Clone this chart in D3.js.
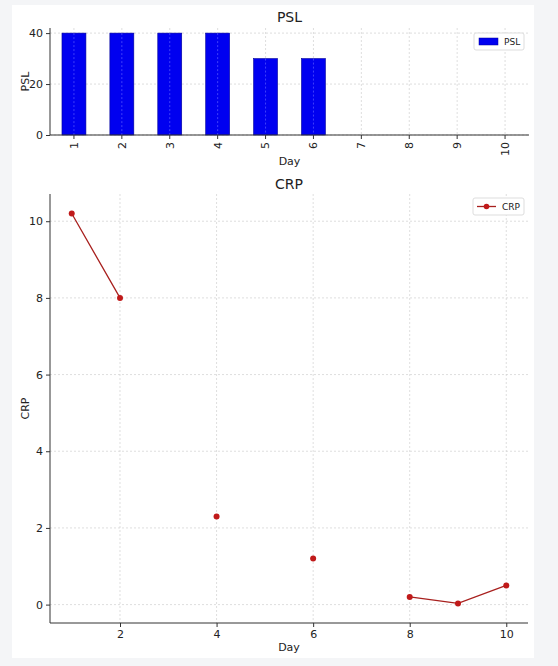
<!DOCTYPE html>
<html><head><meta charset="utf-8">
<script src="https://cdn.jsdelivr.net/npm/d3@7"></script>
<style>
body{margin:0;background:#f4f5f7;}
svg{display:block;font-family:"DejaVu Sans",sans-serif;}
</style></head>
<body>
<svg id="c" width="558" height="666"></svg>
<script>
const days = [1,2,3,4,5,6,7,8,9,10];
const pslValues = [40,40,40,40,30,30,null,null,null,null];
const crpValues = [10.2,8.0,null,2.3,null,1.2,null,0.2,0.03,0.5];
const pslTicks = [0,20,40];
const crpYTicks = [0,2,4,6,8,10];
const crpXTicks = [2,4,6,8,10];

const svg = d3.select("#c");
svg.append("rect").attr("x",12).attr("y",5).attr("width",522).attr("height",653).attr("fill","#fff");

const axisColor = "#333";
const gridColor = "#d0d0d0";
function styleAxis(g){
  g.select(".domain").remove();
  g.selectAll(".tick line").attr("stroke",axisColor);
  g.selectAll(".tick text").attr("fill","#222").attr("font-size","11px").attr("font-family","DejaVu Sans");
}

// ---------- PSL ----------
const t = {l:50,r:529,t:28,b:135};
const xb = d3.scaleBand().domain(days).range([t.l,t.r]).paddingInner(0.5).paddingOuter(0.25);
const yb = d3.scaleLinear().domain([0,42]).range([t.b,t.t]);
const g1 = svg.append("g");
// grid
g1.selectAll(".gx").data(days).join("line")
  .attr("x1",d=>xb(d)+xb.bandwidth()/2).attr("x2",d=>xb(d)+xb.bandwidth()/2)
  .attr("y1",t.t).attr("y2",t.b).attr("stroke",gridColor).attr("stroke-width",0.7).attr("stroke-dasharray","2,2");
g1.selectAll(".gy").data(pslTicks).join("line")
  .attr("x1",t.l).attr("x2",t.r).attr("y1",d=>yb(d)).attr("y2",d=>yb(d))
  .attr("stroke",gridColor).attr("stroke-width",0.7).attr("stroke-dasharray","2,2");
// bars
g1.selectAll(".bar").data(days.map((d,i)=>({d,v:pslValues[i]})).filter(o=>o.v!=null)).join("rect")
  .attr("x",o=>xb(o.d)).attr("width",xb.bandwidth())
  .attr("y",o=>yb(o.v)).attr("height",o=>yb(0)-yb(o.v))
  .attr("fill","#0000f0").attr("stroke","#00009a").attr("stroke-width",0.6);
// bar-center grid over bars (faint)
g1.selectAll(".gx2").data(days.filter((d,i)=>pslValues[i]!=null)).join("line")
  .attr("x1",d=>xb(d)+xb.bandwidth()/2).attr("x2",d=>xb(d)+xb.bandwidth()/2)
  .attr("y1",d=>yb(pslValues[d-1])).attr("y2",t.b).attr("stroke","#5a5aff").attr("stroke-width",0.7).attr("stroke-dasharray","2,2");
// axes
const ax1 = g1.append("g").attr("transform",`translate(0,${t.b})`).call(d3.axisBottom(xb).tickSize(4).tickPadding(3));
styleAxis(ax1);
ax1.selectAll(".tick text").attr("transform","rotate(-90)").attr("text-anchor","end").attr("dy","0.35em").attr("x",-7).attr("y",0);
const ay1 = g1.append("g").attr("transform",`translate(${t.l},0)`).call(d3.axisLeft(yb).tickValues(pslTicks).tickSize(4).tickPadding(3));
styleAxis(ay1);
g1.append("line").attr("x1",t.l).attr("x2",t.l).attr("y1",t.t).attr("y2",t.b).attr("stroke",axisColor).attr("stroke-width",1);
g1.append("line").attr("x1",t.l).attr("x2",t.r).attr("y1",t.b).attr("y2",t.b).attr("stroke",axisColor).attr("stroke-width",1);
g1.append("text").attr("x",(t.l+t.r)/2).attr("y",22).attr("text-anchor","middle").attr("font-size","14px").attr("fill","#222").text("PSL");
g1.append("text").attr("x",(t.l+t.r)/2).attr("y",165).attr("text-anchor","middle").attr("font-size","11px").attr("fill","#222").text("Day");
g1.append("text").attr("transform",`translate(29,${(t.t+t.b)/2}) rotate(-90)`).attr("text-anchor","middle").attr("font-size","11px").attr("fill","#222").text("PSL");
// legend
const l1 = g1.append("g").attr("transform","translate(474,33)");
l1.append("rect").attr("width",50).attr("height",17).attr("fill","#fff").attr("stroke","#ddd").attr("rx",2);
l1.append("rect").attr("x",5).attr("y",5).attr("width",19).attr("height",7).attr("fill","#0000f0").attr("stroke","#00009a").attr("stroke-width",0.5);
l1.append("text").attr("x",30).attr("y",12).attr("font-size","9px").attr("fill","#222").text("PSL");

// ---------- CRP ----------
const b = {l:50,r:528,t:194,b:623};
const x = d3.scaleLinear().domain([0.55,10.45]).range([b.l,b.r]);
const y = d3.scaleLinear().domain([-0.48,10.71]).range([b.b,b.t]);
const g2 = svg.append("g");
g2.selectAll(".gx").data(crpXTicks).join("line")
  .attr("x1",d=>x(d)).attr("x2",d=>x(d)).attr("y1",b.t).attr("y2",b.b)
  .attr("stroke",gridColor).attr("stroke-width",0.7).attr("stroke-dasharray","2,2");
g2.selectAll(".gy").data(crpYTicks).join("line")
  .attr("x1",b.l).attr("x2",b.r).attr("y1",d=>y(d)).attr("y2",d=>y(d))
  .attr("stroke",gridColor).attr("stroke-width",0.7).attr("stroke-dasharray","2,2");
const pts = days.map((d,i)=>({d,v:crpValues[i]}));
const line = d3.line().defined(o=>o.v!=null).x(o=>x(o.d)).y(o=>y(o.v));
g2.append("path").datum(pts).attr("d",line).attr("fill","none").attr("stroke","#a8201e").attr("stroke-width",1.3);
g2.selectAll(".pt").data(pts.filter(o=>o.v!=null)).join("circle")
  .attr("cx",o=>x(o.d)).attr("cy",o=>y(o.v)).attr("r",3).attr("fill","#c01a1a");
const ax2 = g2.append("g").attr("transform",`translate(0,${b.b})`).call(d3.axisBottom(x).tickValues(crpXTicks).tickSize(4).tickPadding(3));
styleAxis(ax2);
const ay2 = g2.append("g").attr("transform",`translate(${b.l},0)`).call(d3.axisLeft(y).tickValues(crpYTicks).tickSize(4).tickPadding(3));
styleAxis(ay2);
g2.append("line").attr("x1",b.l).attr("x2",b.l).attr("y1",b.t).attr("y2",b.b).attr("stroke",axisColor).attr("stroke-width",1);
g2.append("line").attr("x1",b.l).attr("x2",b.r).attr("y1",b.b).attr("y2",b.b).attr("stroke",axisColor).attr("stroke-width",1);
g2.append("text").attr("x",(b.l+b.r)/2).attr("y",189).attr("text-anchor","middle").attr("font-size","14px").attr("fill","#222").text("CRP");
g2.append("text").attr("x",(b.l+b.r)/2).attr("y",651).attr("text-anchor","middle").attr("font-size","11px").attr("fill","#222").text("Day");
g2.append("text").attr("transform",`translate(29,${(b.t+b.b)/2}) rotate(-90)`).attr("text-anchor","middle").attr("font-size","11px").attr("fill","#222").text("CRP");
const l2 = g2.append("g").attr("transform","translate(473,198)");
l2.append("rect").attr("width",51).attr("height",17).attr("fill","#fff").attr("stroke","#ddd").attr("rx",2);
l2.append("line").attr("x1",4).attr("x2",23).attr("y1",8.5).attr("y2",8.5).attr("stroke","#a8201e").attr("stroke-width",1.3);
l2.append("circle").attr("cx",13.5).attr("cy",8.5).attr("r",2.8).attr("fill","#c01a1a");
l2.append("text").attr("x",29).attr("y",12).attr("font-size","9px").attr("fill","#222").text("CRP");
</script>
</body></html>
